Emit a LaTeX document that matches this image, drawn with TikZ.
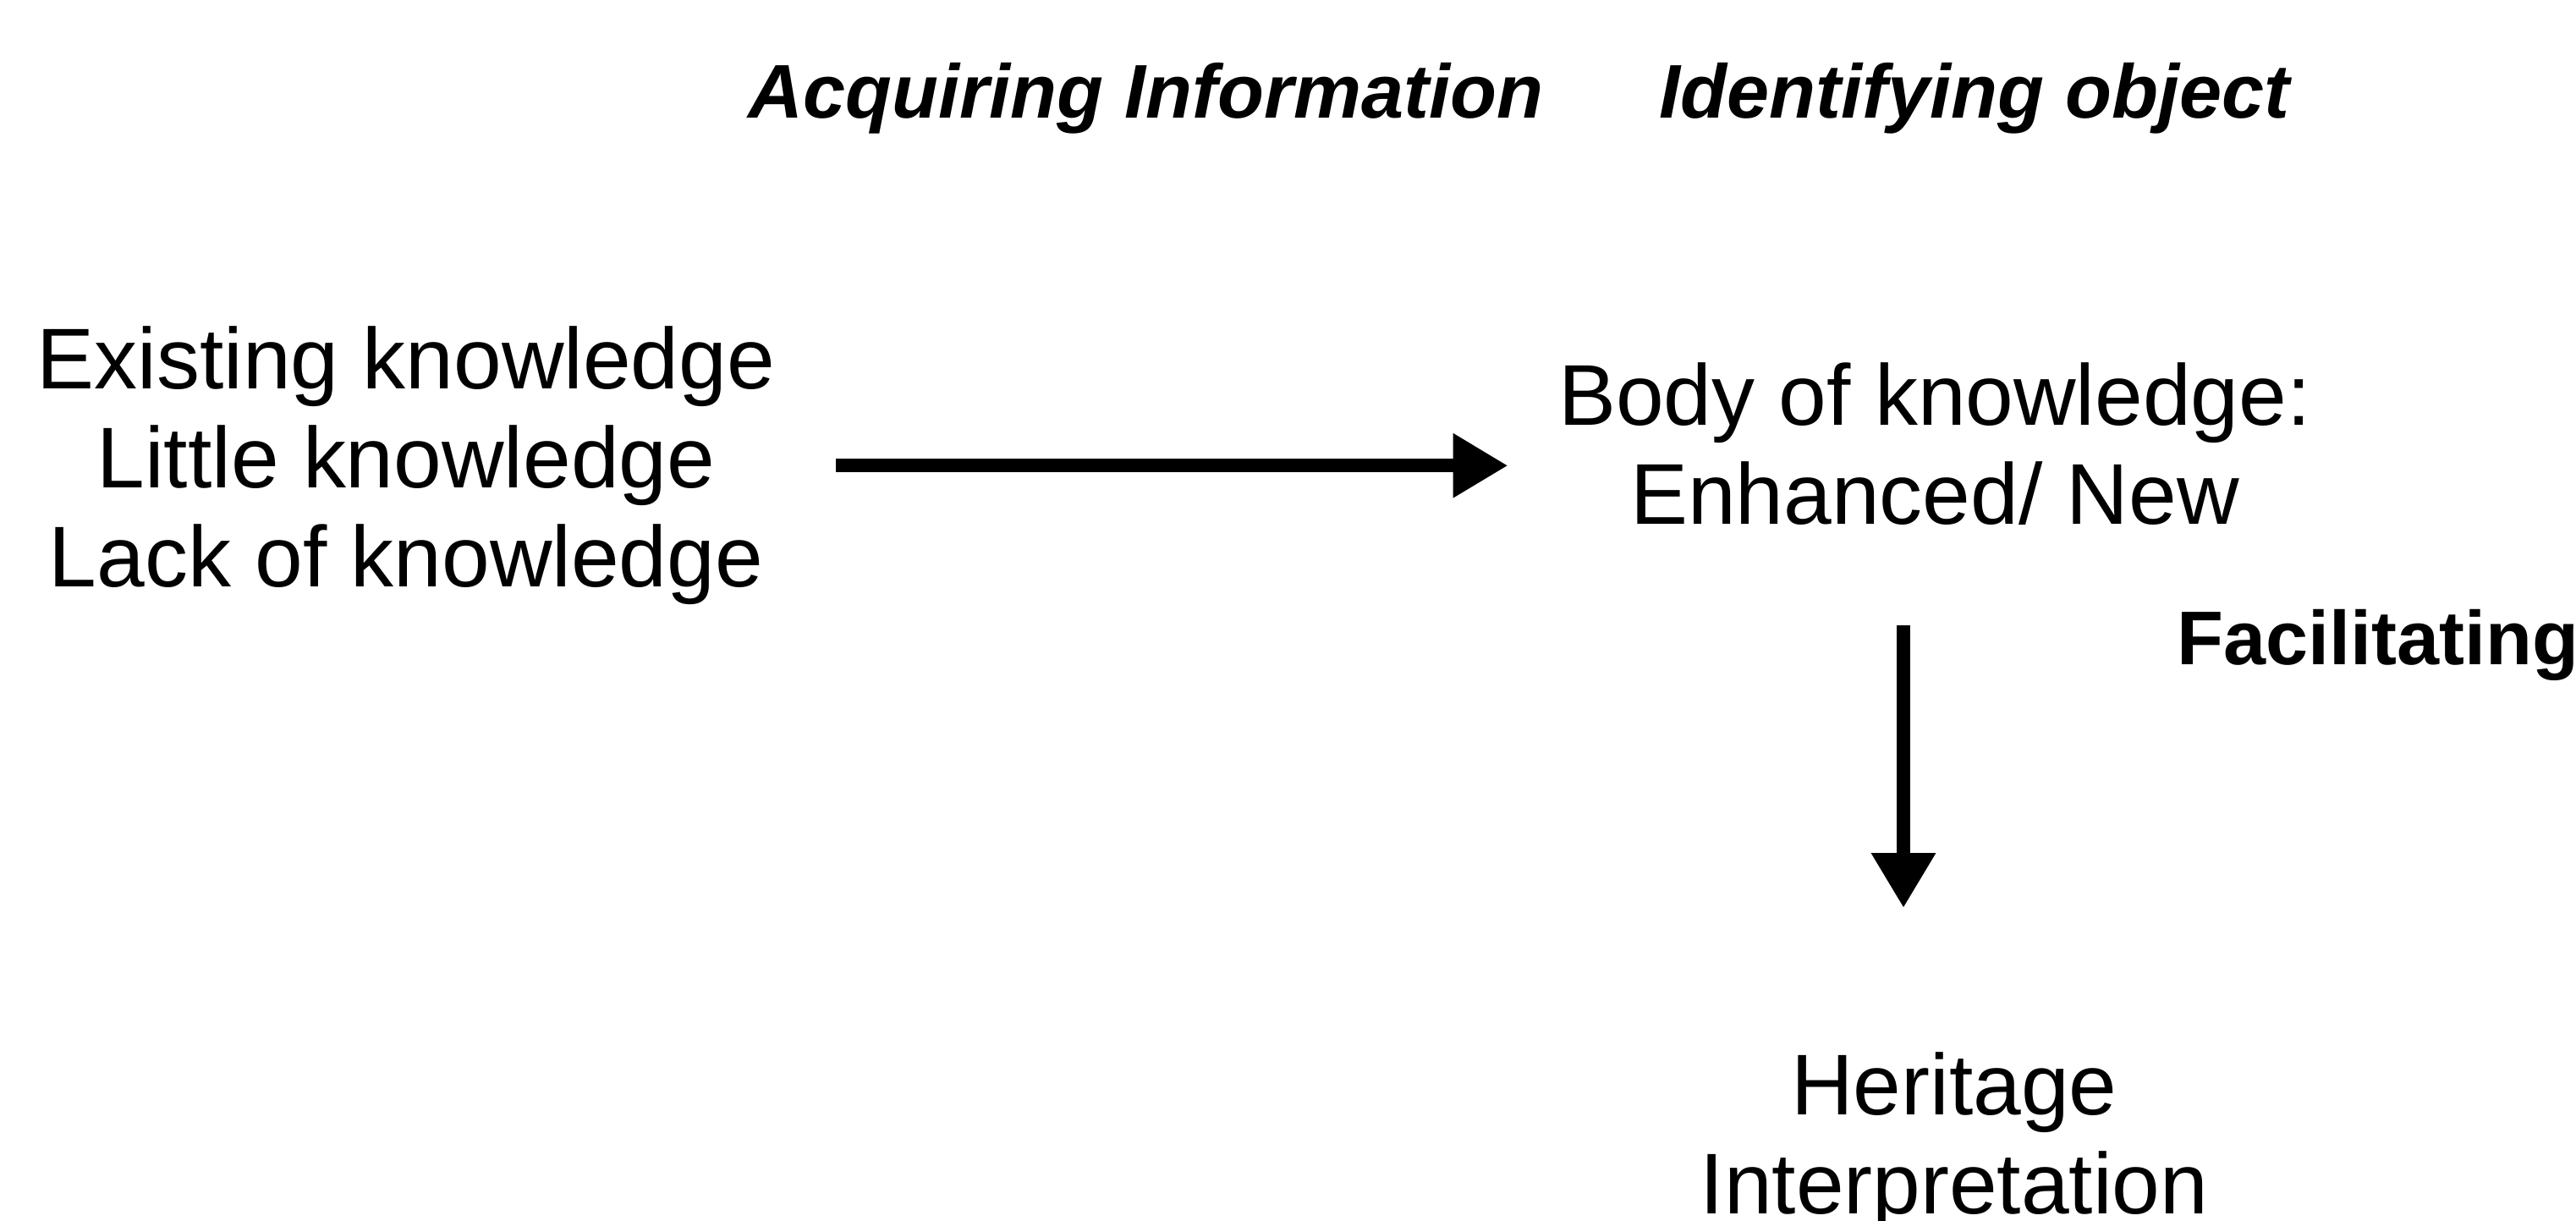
\documentclass[tikz,border=0pt]{standalone}
\usepackage{fontspec}
\setmainfont{Liberation Sans}
\usetikzlibrary{arrows.meta}

\begin{document}
\begin{tikzpicture}[
    txt/.style={font=\fontsize{29}{33.3}\selectfont, align=center, inner sep=0pt},
    head/.style={font=\fontsize{25.6}{30}\selectfont\bfseries\itshape, inner sep=0pt},
    flow/.style={line width=0.16cm, -{Triangle[length=0.65cm,width=0.72cm]}}
  ]
    \useasboundingbox (0,0) rectangle (30.45,14.42);

    % column headings
    \node[head, anchor=base west] (acq) at (8.84,13.02) {Acquiring Information};
    \node[head, anchor=base west] (ident) at (19.61,13.02) {Identifying object};

    % the three text blocks
    \node[txt, anchor=north] (known) at (4.80,10.57)
      {Existing knowledge\\Little knowledge\\Lack of knowledge};
    \node[txt, anchor=north] (body) at (22.87,10.14)
      {Body of knowledge:\\Enhanced/ New};
    \node[txt, anchor=north] (herit) at (23.10,1.99)
      {Heritage\\Interpretation};
    \node[font=\fontsize{25.6}{30}\selectfont\bfseries, inner sep=0pt,
      anchor=base west] (facil) at (25.73,6.57) {Facilitating};

    % arrows
    \coordinate (drop) at (22.50,0);
    \draw[flow, shorten <=0.71cm, shorten >=0.59cm] (known.east) -- (known.east -| body.west);
    \draw[flow, shorten <=1.18cm, shorten >=1.70cm] (body.south -| drop) -- (herit.north -| drop);
\end{tikzpicture}
\end{document}
